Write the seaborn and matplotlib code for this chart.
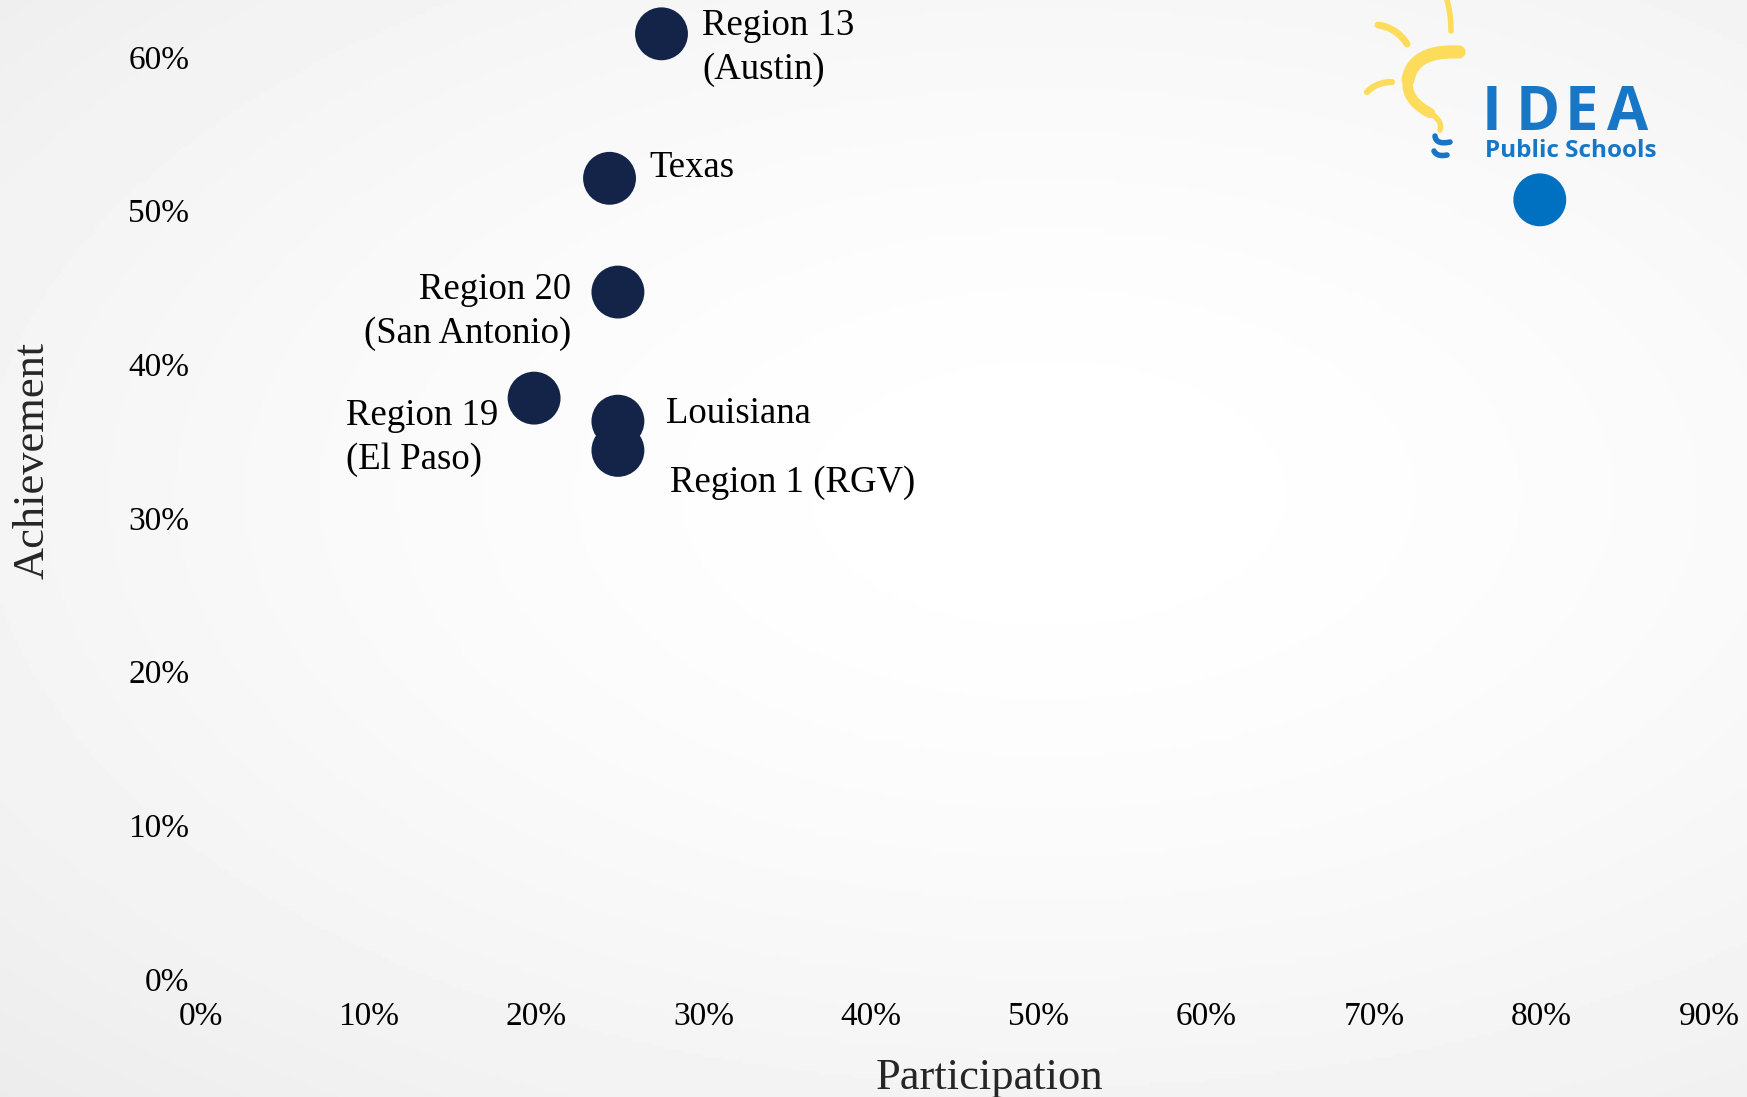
import numpy as np
import pandas as pd
import matplotlib
matplotlib.use("Agg")
import matplotlib.pyplot as plt
from matplotlib.ticker import PercentFormatter
import seaborn as sns

# values (fractions)
groups = ["Region 13", "Texas", "Region 20", "Region 19", "Louisiana", "Region 1", "IDEA"]
labels = ["Region 13\n(Austin)", "Texas", "Region 20\n(San Antonio)", "Region 19\n(El Paso)",
          "Louisiana", "Region 1 (RGV)", ""]
participation = [0.275, 0.244, 0.249, 0.199, 0.249, 0.249, 0.799]
achievement = [0.615, 0.521, 0.447, 0.378, 0.363, 0.344, 0.507]
x_ticks = [0.0, 0.1, 0.2, 0.3, 0.4, 0.5, 0.6, 0.7, 0.8, 0.9]
y_ticks = [0.0, 0.1, 0.2, 0.3, 0.4, 0.5, 0.6]

NAVY = "#132448"
IDEA_BLUE = "#0070C0"
LOGO_BLUE = "#1777C6"
YEL = "#FDDC5C"

df = pd.DataFrame({"group": groups, "label": labels,
                   "participation": participation, "achievement": achievement})
df["kind"] = np.where(df["group"] == "IDEA", "idea", "other")

sns.set_style("white")
plt.rcParams["font.family"] = ["Liberation Serif", "DejaVu Serif"]

fig = plt.figure(figsize=(17.47, 10.97), dpi=100)

# soft radial slide background
bg = fig.add_axes([0, 0, 1, 1], zorder=-5)
yy, xx = np.mgrid[0:1:300j, 0:1:480j]
r = np.sqrt(((xx - 0.6) / 0.9) ** 2 + ((yy - 0.45) / 0.8) ** 2)
shade = 1.0 - 0.08 * np.clip(r, 0, 1) ** 1.6
bg.imshow(shade, cmap="gray", vmin=0, vmax=1, extent=[0, 1, 0, 1], aspect="auto")
bg.axis("off")

ax = fig.add_axes([0.1148, 0.1074, 0.8635, 0.8926])
ax.patch.set_alpha(0)

sns.scatterplot(data=df, x="participation", y="achievement", hue="kind",
                palette={"other": NAVY, "idea": IDEA_BLUE}, s=1450,
                linewidth=0, legend=False, ax=ax, zorder=3)

# label placement: (dx, dy) in pixels from point, ha
offsets = {
    "Region 13": (41, 14, "left"),
    "Texas": (40, -11, "left"),
    "Region 20": (-47, 20, "right"),
    "Region 19": (-36, 40, "right"),
    "Louisiana": (48, -7, "left"),
    "Region 1": (52, 32, "left"),
}
for _, row in df.iterrows():
    if row["group"] not in offsets:
        continue
    dx, dy, ha = offsets[row["group"]]
    ax.annotate(row["label"], (row["participation"], row["achievement"]),
                xytext=(dx * 0.72, -dy * 0.72), textcoords="offset points",
                ha=ha, va="center", multialignment="left" if row["group"] == "Region 19" else ha,
                fontsize=26.5, linespacing=1.35, color="black")

ax.set_xlim(0, 0.9)
ax.set_ylim(0, 0.637)
ax.set_xticks(x_ticks)
ax.set_yticks(y_ticks)
ax.xaxis.set_major_formatter(PercentFormatter(1.0, decimals=0))
ax.yaxis.set_major_formatter(PercentFormatter(1.0, decimals=0))
ax.tick_params(axis="both", length=0, labelsize=24, colors="black")
ax.tick_params(axis="x", pad=16)
ax.tick_params(axis="y", pad=8)
for s in ax.spines.values():
    s.set_visible(False)
ax.grid(False)

ax.set_xlabel("Participation", fontsize=32)
ax.set_ylabel("Achievement", fontsize=32)
ax.xaxis.set_label_coords(0.523, -0.08)
ax.yaxis.set_label_coords(-0.098, 0.53)

# IDEA Public Schools logo, drawn in pixel space
lg = fig.add_axes([0, 0, 1, 1], zorder=5)
lg.set_xlim(0, 1747)
lg.set_ylim(1097, 0)
lg.axis("off")
lg.patch.set_alpha(0)


def bez(p0, p1, p2, n=40):
    t = np.linspace(0, 1, n)[:, None]
    p0, p1, p2 = map(np.array, (p0, p1, p2))
    pts = (1 - t) ** 2 * p0 + 2 * (1 - t) * t * p1 + t ** 2 * p2
    return pts[:, 0], pts[:, 1]


# main swoosh of the bulb, tapering
sw = [((1459, 52), (1413, 50), (1408, 80)), ((1408, 80), (1405, 100), (1430, 113)),
      ((1430, 113), (1443, 121), (1440, 130))]
for (a, b, c), w in zip(sw, [9.5, 7.5, 4]):
    x, y = bez(a, b, c)
    lg.plot(x, y, color=YEL, lw=w, solid_capstyle="round")
for a, b, c, w in [((1447, 0), (1451, 15), (1451, 31), 4),
                   ((1378, 25), (1397, 28), (1407, 44), 5),
                   ((1367, 92), (1377, 82), (1392, 82), 4.5)]:
    x, y = bez(a, b, c)
    lg.plot(x, y, color=YEL, lw=w, solid_capstyle="round")
for a, b, c in [((1435, 136), (1436, 145), (1450, 142)),
                ((1434, 151), (1437, 157), (1447, 155))]:
    x, y = bez(a, b, c)
    lg.plot(x, y, color=LOGO_BLUE, lw=4, solid_capstyle="round")

for ch, xp in zip("IDEA", [1492, 1538, 1581, 1628]):
    lg.text(xp, 130, ch, color=LOGO_BLUE, fontsize=43, fontweight="bold",
            family=["Open Sans", "DejaVu Sans"], ha="center", va="baseline")
lg.text(1485, 157, "Public Schools", color=LOGO_BLUE, fontsize=17.5, fontweight="bold",
        family=["Open Sans", "DejaVu Sans"], ha="left", va="baseline")

fig.savefig("out.png", dpi=100)
